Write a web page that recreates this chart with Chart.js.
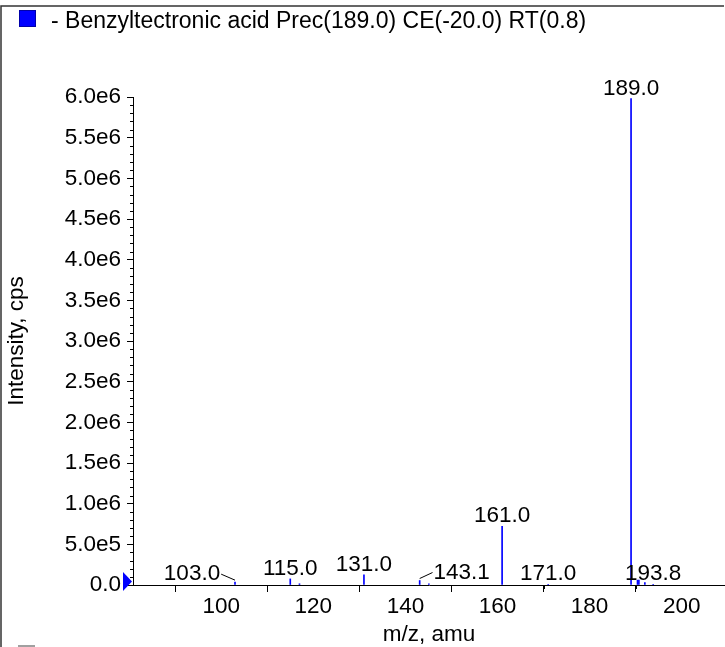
<!DOCTYPE html>
<html>
<head>
<meta charset="utf-8">
<script src="https://cdn.jsdelivr.net/npm/chart.js@4/dist/chart.umd.min.js"></script>
<style>
  html, body { margin: 0; padding: 0; background: #fff; }
  canvas { display: block; }
</style>
</head>
<body>
<canvas id="spectrum" width="725" height="647"></canvas>
<script>
const legendText = '- Benzyltectronic acid Prec(189.0) CE(-20.0) RT(0.8)';

// peaks (m/z, intensity in cps)
const mz = [103.0, 115.0, 117.0, 131.0, 143.1, 145.1, 161.0, 171.0, 189.0, 190.4, 190.7, 192.0, 193.8];
const intensity = [3.5e4, 7.5e4, 1.5e4, 1.25e5, 5.5e4, 1.5e4, 7.2e5, 8e3, 5.98e6, 6e4, 6e4, 3e4, 8e3];

// which peaks get a label
const labelledMz = [103.0, 115.0, 131.0, 143.1, 161.0, 171.0, 189.0, 193.8];

const xTicks = [100, 120, 140, 160, 180, 200];
const yTicks = [0, 5e5, 1e6, 1.5e6, 2e6, 2.5e6, 3e6, 3.5e6, 4e6, 4.5e6, 5e6, 5.5e6, 6e6];

const FONT = '"Liberation Sans", Arial, Helvetica, sans-serif';
const FSIZE = 22.5;

// label shift for crowded peaks, drawn with a leader line
const labelShift = { '103.0': [-43, 2], '143.1': [42, 2] };

const fmtY = v => v === 0 ? '0.0' : v.toExponential(1).replace('e+', 'e');

const extras = {
  id: 'extras',
  beforeDraw(chart) {
    const ctx = chart.ctx;
    ctx.save();
    // outer frame
    ctx.strokeStyle = '#333';
    ctx.lineWidth = 1.5;
    ctx.beginPath();
    ctx.moveTo(1, 647);
    ctx.lineTo(1, 6);
    ctx.lineTo(724, 6);
    ctx.stroke();
    // legend
    ctx.fillStyle = '#0000ff';
    ctx.fillRect(19, 10, 17, 17);
    ctx.strokeStyle = '#0000aa';
    ctx.lineWidth = 1;
    ctx.strokeRect(19.5, 10.5, 16, 16);
    ctx.fillStyle = '#000';
    ctx.font = '23px ' + FONT;
    ctx.textBaseline = 'middle';
    ctx.textAlign = 'left';
    ctx.fillText(legendText, 51, 22);
    // cut-off second legend swatch
    ctx.fillStyle = '#a0a0a0';
    ctx.fillRect(18, 645, 17, 2);
    ctx.restore();
  },
  afterDraw(chart) {
    const ctx = chart.ctx;
    const xs = chart.scales.x, ys = chart.scales.y;
    const area = chart.chartArea;
    ctx.save();
    ctx.strokeStyle = '#000';
    ctx.lineWidth = 1;
    // minor ticks
    ctx.beginPath();
    for (let v = 1e5; v < ys.max; v += 1e5) {
      if (Math.round(v / 1e5) % 5 === 0) continue;
      const py = Math.round(ys.getPixelForValue(v)) + 0.5;
      ctx.moveTo(area.left - 3, py);
      ctx.lineTo(area.left, py);
    }
    for (let v = 90; v < xs.max; v += 20) {
      const px = Math.round(xs.getPixelForValue(v)) + 0.5;
      ctx.moveTo(px, area.bottom);
      ctx.lineTo(px, area.bottom + 4);
    }
    ctx.stroke();
    // zero marker triangle
    const y0 = ys.getPixelForValue(0);
    ctx.fillStyle = '#0000ff';
    ctx.beginPath();
    ctx.moveTo(area.left - 10, y0 - 13);
    ctx.lineTo(area.left - 1, y0 - 3.5);
    ctx.lineTo(area.left - 10, y0 + 6);
    ctx.closePath();
    ctx.fill();
    // peak labels
    ctx.fillStyle = '#000';
    ctx.font = FSIZE + 'px ' + FONT;
    ctx.textAlign = 'center';
    ctx.textBaseline = 'alphabetic';
    labelledMz.forEach(m => {
      const i = mz.indexOf(m);
      const text = m.toFixed(1);
      const px = xs.getPixelForValue(m);
      const top = ys.getPixelForValue(intensity[i]);
      const shift = labelShift[text] || [0, 0];
      const cx = px + shift[0];
      const base = top - 4 + shift[1];
      ctx.fillText(text, cx, base);
      if (shift[0] !== 0) {
        const w = ctx.measureText(text).width;
        const ex = shift[0] < 0 ? cx + w / 2 + 1 : cx - w / 2 - 1;
        ctx.beginPath();
        ctx.moveTo(ex, base - 6);
        ctx.lineTo(px, top - 2);
        ctx.stroke();
      }
    });
    ctx.restore();
  }
};

new Chart(document.getElementById('spectrum'), {
  type: 'bar',
  data: {
    datasets: [{
      label: legendText,
      data: mz.map((m, i) => ({ x: m, y: intensity[i] })),
      backgroundColor: '#0000ff',
      borderWidth: 0,
      barThickness: 1
    }]
  },
  options: {
    responsive: false,
    animation: false,
    devicePixelRatio: 1,
    layout: { padding: { top: 97, right: 0, bottom: 0, left: 0 } },
    plugins: {
      legend: { display: false },
      tooltip: { enabled: false }
    },
    scales: {
      x: {
        type: 'linear',
        min: 80.85,
        max: 209.4,
        offset: false,
        afterBuildTicks: s => { s.ticks = xTicks.map(v => ({ value: v })); },
        afterFit: s => { s.height = 62; },
        grid: { drawOnChartArea: false, tickLength: 7, color: '#000' },
        border: { color: '#000', width: 1 },
        ticks: { color: '#000', font: { family: FONT, size: FSIZE }, padding: 1, maxRotation: 0, autoSkip: false },
        title: { display: true, text: 'm/z, amu', color: '#000', font: { family: FONT, size: FSIZE }, padding: { top: 0, bottom: -1 } }
      },
      y: {
        min: 0,
        max: 6e6,
        afterBuildTicks: s => { s.ticks = yTicks.map(v => ({ value: v })); },
        afterFit: s => { s.width = 133; },
        grid: { drawOnChartArea: false, tickLength: 6, color: '#000' },
        border: { color: '#000', width: 1 },
        ticks: { color: '#000', font: { family: FONT, size: FSIZE }, padding: 6, callback: v => fmtY(v) },
        title: { display: true, text: 'Intensity, cps', color: '#000', font: { family: FONT, size: FSIZE }, padding: 3 }
      }
    }
  },
  plugins: [extras]
});
</script>
</body>
</html>
